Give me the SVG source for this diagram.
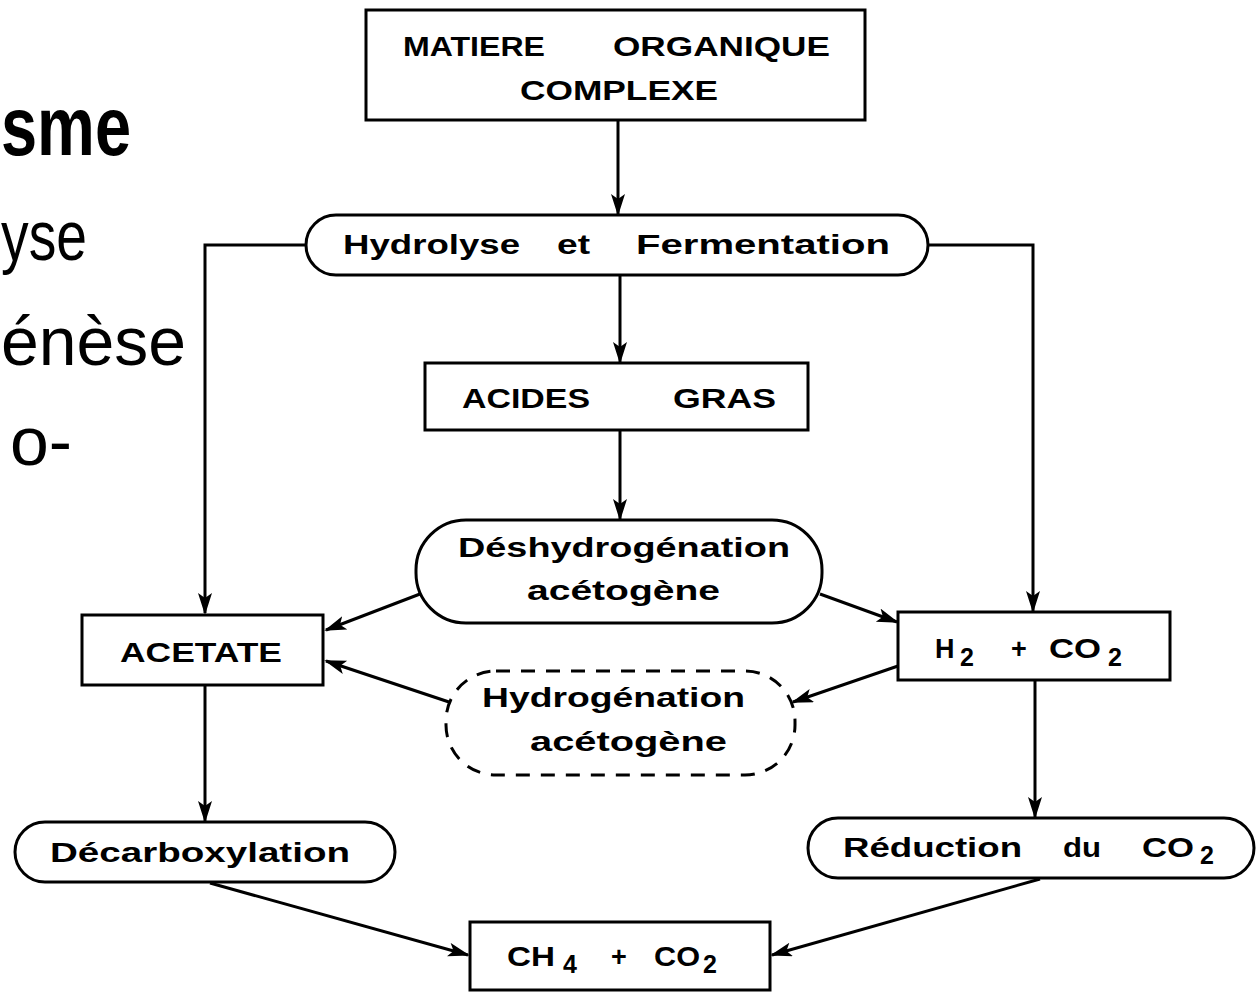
<svg xmlns="http://www.w3.org/2000/svg" width="1257" height="993" viewBox="0 0 1257 993">
<defs>
<style>
.box{fill:#fff;stroke:#000;stroke-width:3}
.dash{fill:#fff;stroke:#000;stroke-width:3;stroke-dasharray:14 11}
.lbl{font-family:"Liberation Sans",Arial,sans-serif;font-weight:bold;font-size:27px;fill:#000}
.sub{font-size:25px}
.side{font-family:"Liberation Sans",Arial,sans-serif;fill:#000}
.con{fill:none;stroke:#000;stroke-width:3}
</style>
<marker id="ah" markerUnits="userSpaceOnUse" markerWidth="24" markerHeight="16" refX="20" refY="7" orient="auto">
<path d="M0,0 L22,7 L0,14 L5,7 Z" fill="#000"/>
</marker>
</defs>
<rect width="1257" height="993" fill="#fff"/>

<g id="slide-text">
<text class="side" x="1" y="155" font-size="84" font-weight="bold" textLength="130" lengthAdjust="spacingAndGlyphs">sme</text>
<text class="side" x="1" y="260" font-size="70" textLength="86" lengthAdjust="spacingAndGlyphs">yse</text>
<text class="side" x="1" y="365" font-size="69" textLength="185" lengthAdjust="spacingAndGlyphs">énèse</text>
<text class="side" x="10" y="465" font-size="69" textLength="62" lengthAdjust="spacingAndGlyphs">o-</text>
</g>

<g id="connectors">
<line class="con" x1="618" y1="120" x2="618" y2="214" marker-end="url(#ah)"/>
<polyline class="con" points="306,245 205,245 205,613" marker-end="url(#ah)"/>
<polyline class="con" points="928,245 1033,245 1033,611" marker-end="url(#ah)"/>
<line class="con" x1="620" y1="276" x2="620" y2="362" marker-end="url(#ah)"/>
<line class="con" x1="620" y1="430" x2="620" y2="519" marker-end="url(#ah)"/>
<line class="con" x1="420" y1="594" x2="326" y2="630" marker-end="url(#ah)"/>
<line class="con" x1="820" y1="594" x2="897" y2="622" marker-end="url(#ah)"/>
<line class="con" x1="452" y1="703" x2="326" y2="661" marker-end="url(#ah)"/>
<line class="con" x1="898" y1="666" x2="793" y2="702" marker-end="url(#ah)"/>
<line class="con" x1="205" y1="686" x2="205" y2="821" marker-end="url(#ah)"/>
<line class="con" x1="1035" y1="681" x2="1035" y2="817" marker-end="url(#ah)"/>
<line class="con" x1="210" y1="883" x2="468" y2="955" marker-end="url(#ah)"/>
<line class="con" x1="1040" y1="879" x2="772" y2="955" marker-end="url(#ah)"/>
</g>

<g id="matiere">
<rect class="box" x="366" y="10" width="499" height="110"/>
<text class="lbl" y="56"><tspan x="403" textLength="142" lengthAdjust="spacingAndGlyphs">MATIERE</tspan><tspan x="613" textLength="217" lengthAdjust="spacingAndGlyphs">ORGANIQUE</tspan></text>
<text class="lbl" x="520" y="100" textLength="198" lengthAdjust="spacingAndGlyphs">COMPLEXE</text>
</g>

<g id="hydrolyse">
<rect class="box" x="306" y="215" width="622" height="60" rx="30"/>
<text class="lbl" y="254"><tspan x="343" textLength="177" lengthAdjust="spacingAndGlyphs">Hydrolyse</tspan><tspan x="557" textLength="33" lengthAdjust="spacingAndGlyphs">et</tspan><tspan x="636" textLength="254" lengthAdjust="spacingAndGlyphs">Fermentation</tspan></text>
</g>

<g id="acides">
<rect class="box" x="425" y="363" width="383" height="67"/>
<text class="lbl" y="408"><tspan x="462" textLength="128" lengthAdjust="spacingAndGlyphs">ACIDES</tspan><tspan x="673" textLength="103" lengthAdjust="spacingAndGlyphs">GRAS</tspan></text>
</g>

<g id="deshydrogenation">
<rect class="box" x="416" y="520" width="406" height="103" rx="50"/>
<text class="lbl" x="458" y="557" textLength="332" lengthAdjust="spacingAndGlyphs">Déshydrogénation</text>
<text class="lbl" x="527" y="600" textLength="193" lengthAdjust="spacingAndGlyphs">acétogène</text>
</g>

<g id="acetate">
<rect class="box" x="82" y="615" width="241" height="70"/>
<text class="lbl" x="120" y="662" textLength="162" lengthAdjust="spacingAndGlyphs">ACETATE</text>
</g>

<g id="h2co2">
<rect class="box" x="898" y="612" width="272" height="68"/>
<text class="lbl" y="658"><tspan x="935">H</tspan><tspan class="sub" x="960" dy="8">2</tspan><tspan x="1011" dy="-8">+</tspan><tspan x="1049" textLength="52" lengthAdjust="spacingAndGlyphs">CO</tspan><tspan class="sub" x="1108" dy="8">2</tspan></text>
</g>

<g id="hydrogenation">
<rect class="dash" x="446" y="671" width="349" height="104" rx="50"/>
<text class="lbl" x="482" y="707" textLength="263" lengthAdjust="spacingAndGlyphs">Hydrogénation</text>
<text class="lbl" x="530" y="751" textLength="197" lengthAdjust="spacingAndGlyphs">acétogène</text>
</g>

<g id="decarboxylation">
<rect class="box" x="15" y="822" width="380" height="60" rx="30"/>
<text class="lbl" x="50" y="862" textLength="300" lengthAdjust="spacingAndGlyphs">Décarboxylation</text>
</g>

<g id="reduction">
<rect class="box" x="808" y="818" width="446" height="60" rx="30"/>
<text class="lbl" y="857"><tspan x="843" textLength="179" lengthAdjust="spacingAndGlyphs">Réduction</tspan><tspan x="1063" textLength="38" lengthAdjust="spacingAndGlyphs">du</tspan><tspan x="1142" textLength="52" lengthAdjust="spacingAndGlyphs">CO</tspan><tspan class="sub" x="1200" dy="7">2</tspan></text>
</g>

<g id="ch4co2">
<rect class="box" x="470" y="922" width="300" height="68"/>
<text class="lbl" y="966"><tspan x="507" textLength="48" lengthAdjust="spacingAndGlyphs">CH</tspan><tspan class="sub" x="563" dy="7">4</tspan><tspan x="611" dy="-7">+</tspan><tspan x="654" textLength="46" lengthAdjust="spacingAndGlyphs">CO</tspan><tspan class="sub" x="703" dy="7">2</tspan></text>
</g>
</svg>
